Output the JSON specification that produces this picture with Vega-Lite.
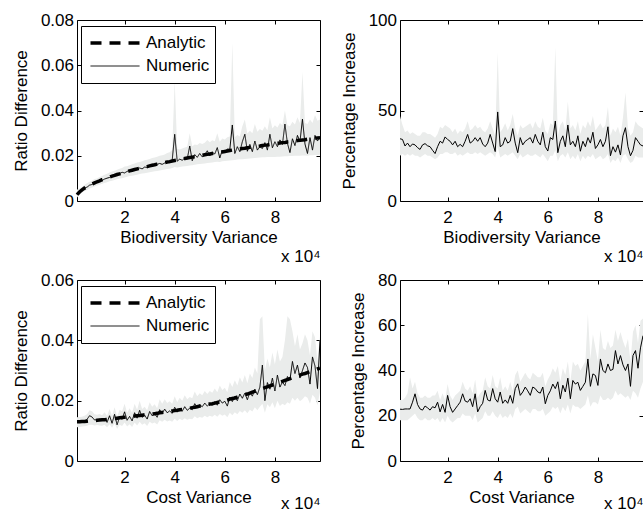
{
"$schema": "https://vega.github.io/schema/vega-lite/v6.json",
"padding": {"left": 11, "top": 10, "right": 0, "bottom": 0},
"background": "white",
"data": {"values": [
{"x":1000,"a1":0.0028,"n1":0.0030,"l1":0.0015,"h1":0.0050,"n2":34.4,"l2":25,"h2":47,"a3":0.0130,"n3":0.0130,"l3":0.0112,"h3":0.0145,"n4":22.9,"l4":18,"h4":27},
{"x":2000,"a1":0.0040,"n1":0.0042,"l1":0.0028,"h1":0.0055,"n2":34.0,"l2":26,"h2":42,"a3":0.0130,"n3":0.0129,"l3":0.0113,"h3":0.0146,"n4":22.8,"l4":18,"h4":27},
{"x":3000,"a1":0.0049,"n1":0.0047,"l1":0.0036,"h1":0.0062,"n2":30.4,"l2":25,"h2":38,"a3":0.0131,"n3":0.0131,"l3":0.0114,"h3":0.0147,"n4":23.0,"l4":18,"h4":28},
{"x":4000,"a1":0.0057,"n1":0.0058,"l1":0.0044,"h1":0.0072,"n2":32.0,"l2":26,"h2":39,"a3":0.0131,"n3":0.0133,"l3":0.0115,"h3":0.0150,"n4":23.0,"l4":18,"h4":30},
{"x":5000,"a1":0.0063,"n1":0.0061,"l1":0.0049,"h1":0.0078,"n2":30.0,"l2":25,"h2":37,"a3":0.0132,"n3":0.0138,"l3":0.0117,"h3":0.0155,"n4":23.0,"l4":19,"h4":37},
{"x":6000,"a1":0.0069,"n1":0.0070,"l1":0.0055,"h1":0.0085,"n2":31.5,"l2":26,"h2":38,"a3":0.0133,"n3":0.0150,"l3":0.0120,"h3":0.0168,"n4":26.0,"l4":20,"h4":32},
{"x":7000,"a1":0.0075,"n1":0.0073,"l1":0.0060,"h1":0.0090,"n2":31.0,"l2":25,"h2":37,"a3":0.0133,"n3":0.0146,"l3":0.0120,"h3":0.0165,"n4":29.7,"l4":21,"h4":35},
{"x":8000,"a1":0.0080,"n1":0.0081,"l1":0.0064,"h1":0.0097,"n2":29.5,"l2":25,"h2":36,"a3":0.0134,"n3":0.0136,"l3":0.0118,"h3":0.0155,"n4":25.0,"l4":19,"h4":30},
{"x":9000,"a1":0.0085,"n1":0.0083,"l1":0.0068,"h1":0.0100,"n2":28.5,"l2":24,"h2":36,"a3":0.0135,"n3":0.0137,"l3":0.0119,"h3":0.0153,"n4":23.0,"l4":18,"h4":28},
{"x":10000,"a1":0.0089,"n1":0.0090,"l1":0.0072,"h1":0.0106,"n2":31.0,"l2":25,"h2":38,"a3":0.0136,"n3":0.0138,"l3":0.0118,"h3":0.0156,"n4":22.5,"l4":18,"h4":28},
{"x":11000,"a1":0.0094,"n1":0.0091,"l1":0.0076,"h1":0.0110,"n2":31.7,"l2":26,"h2":38,"a3":0.0137,"n3":0.0133,"l3":0.0117,"h3":0.0152,"n4":24.3,"l4":19,"h4":29},
{"x":12000,"a1":0.0098,"n1":0.0097,"l1":0.0080,"h1":0.0116,"n2":30.5,"l2":25,"h2":37,"a3":0.0137,"n3":0.0142,"l3":0.0120,"h3":0.0162,"n4":23.5,"l4":18,"h4":28},
{"x":13000,"a1":0.0102,"n1":0.0101,"l1":0.0083,"h1":0.0120,"n2":30.0,"l2":25,"h2":37,"a3":0.0138,"n3":0.0128,"l3":0.0112,"h3":0.0150,"n4":22.5,"l4":18,"h4":28},
{"x":14000,"a1":0.0106,"n1":0.0104,"l1":0.0087,"h1":0.0126,"n2":28.0,"l2":24,"h2":36,"a3":0.0139,"n3":0.0150,"l3":0.0122,"h3":0.0172,"n4":24.0,"l4":19,"h4":29},
{"x":15000,"a1":0.0110,"n1":0.0111,"l1":0.0090,"h1":0.0130,"n2":26.2,"l2":23,"h2":35,"a3":0.0140,"n3":0.0125,"l3":0.0110,"h3":0.0150,"n4":23.5,"l4":18,"h4":29},
{"x":16000,"a1":0.0113,"n1":0.0114,"l1":0.0093,"h1":0.0134,"n2":30.0,"l2":24,"h2":37,"a3":0.0141,"n3":0.0155,"l3":0.0125,"h3":0.0178,"n4":26.0,"l4":19,"h4":31},
{"x":17000,"a1":0.0117,"n1":0.0116,"l1":0.0096,"h1":0.0138,"n2":33.0,"l2":26,"h2":41,"a3":0.0142,"n3":0.0120,"l3":0.0106,"h3":0.0148,"n4":21.7,"l4":17,"h4":27},
{"x":18000,"a1":0.0120,"n1":0.0121,"l1":0.0099,"h1":0.0142,"n2":32.0,"l2":26,"h2":40,"a3":0.0143,"n3":0.0146,"l3":0.0120,"h3":0.0170,"n4":25.0,"l4":19,"h4":30},
{"x":19000,"a1":0.0123,"n1":0.0127,"l1":0.0101,"h1":0.0146,"n2":35.4,"l2":27,"h2":42,"a3":0.0144,"n3":0.0138,"l3":0.0116,"h3":0.0165,"n4":21.5,"l4":17,"h4":27},
{"x":20000,"a1":0.0127,"n1":0.0124,"l1":0.0104,"h1":0.0152,"n2":34.0,"l2":27,"h2":41,"a3":0.0145,"n3":0.0163,"l3":0.0128,"h3":0.0190,"n4":29.0,"l4":20,"h4":34},
{"x":21000,"a1":0.0130,"n1":0.0131,"l1":0.0107,"h1":0.0154,"n2":33.0,"l2":26,"h2":40,"a3":0.0146,"n3":0.0135,"l3":0.0114,"h3":0.0160,"n4":24.0,"l4":18,"h4":29},
{"x":22000,"a1":0.0133,"n1":0.0135,"l1":0.0110,"h1":0.0158,"n2":31.0,"l2":26,"h2":38,"a3":0.0147,"n3":0.0148,"l3":0.0122,"h3":0.0175,"n4":21.5,"l4":17,"h4":27},
{"x":23000,"a1":0.0136,"n1":0.0132,"l1":0.0112,"h1":0.0162,"n2":33.0,"l2":27,"h2":40,"a3":0.0148,"n3":0.0133,"l3":0.0113,"h3":0.0160,"n4":23.0,"l4":18,"h4":29},
{"x":24000,"a1":0.0139,"n1":0.0141,"l1":0.0114,"h1":0.0166,"n2":30.0,"l2":25,"h2":37,"a3":0.0149,"n3":0.0160,"l3":0.0128,"h3":0.0190,"n4":24.5,"l4":19,"h4":30},
{"x":25000,"a1":0.0142,"n1":0.0137,"l1":0.0116,"h1":0.0170,"n2":31.3,"l2":26,"h2":39,"a3":0.0150,"n3":0.0142,"l3":0.0118,"h3":0.0170,"n4":26.0,"l4":19,"h4":31},
{"x":26000,"a1":0.0144,"n1":0.0146,"l1":0.0119,"h1":0.0172,"n2":30.0,"l2":25,"h2":38,"a3":0.0151,"n3":0.0168,"l3":0.0130,"h3":0.0200,"n4":29.7,"l4":21,"h4":35},
{"x":27000,"a1":0.0147,"n1":0.0142,"l1":0.0121,"h1":0.0176,"n2":33.0,"l2":26,"h2":40,"a3":0.0152,"n3":0.0145,"l3":0.0120,"h3":0.0172,"n4":26.5,"l4":20,"h4":32},
{"x":28000,"a1":0.0150,"n1":0.0150,"l1":0.0123,"h1":0.0180,"n2":36.8,"l2":27,"h2":44,"a3":0.0153,"n3":0.0152,"l3":0.0125,"h3":0.0180,"n4":26.0,"l4":20,"h4":31},
{"x":29000,"a1":0.0152,"n1":0.0148,"l1":0.0125,"h1":0.0182,"n2":32.0,"l2":26,"h2":39,"a3":0.0154,"n3":0.0139,"l3":0.0116,"h3":0.0168,"n4":27.5,"l4":20,"h4":33},
{"x":30000,"a1":0.0155,"n1":0.0157,"l1":0.0127,"h1":0.0186,"n2":33.0,"l2":26,"h2":40,"a3":0.0155,"n3":0.0164,"l3":0.0130,"h3":0.0195,"n4":24.0,"l4":18,"h4":30},
{"x":31000,"a1":0.0158,"n1":0.0153,"l1":0.0129,"h1":0.0190,"n2":35.0,"l2":27,"h2":42,"a3":0.0156,"n3":0.0150,"l3":0.0124,"h3":0.0180,"n4":29.7,"l4":21,"h4":36},
{"x":32000,"a1":0.0160,"n1":0.0159,"l1":0.0131,"h1":0.0192,"n2":33.0,"l2":26,"h2":40,"a3":0.0157,"n3":0.0157,"l3":0.0128,"h3":0.0188,"n4":21.7,"l4":17,"h4":28},
{"x":33000,"a1":0.0163,"n1":0.0162,"l1":0.0133,"h1":0.0196,"n2":35.0,"l2":27,"h2":41,"a3":0.0158,"n3":0.0145,"l3":0.0121,"h3":0.0175,"n4":24.0,"l4":18,"h4":30},
{"x":34000,"a1":0.0165,"n1":0.0166,"l1":0.0135,"h1":0.0200,"n2":31.5,"l2":26,"h2":39,"a3":0.0160,"n3":0.0170,"l3":0.0135,"h3":0.0205,"n4":25.5,"l4":19,"h4":31},
{"x":35000,"a1":0.0167,"n1":0.0162,"l1":0.0137,"h1":0.0202,"n2":30.0,"l2":25,"h2":38,"a3":0.0161,"n3":0.0158,"l3":0.0130,"h3":0.0190,"n4":31.2,"l4":22,"h4":37},
{"x":36000,"a1":0.0170,"n1":0.0168,"l1":0.0139,"h1":0.0206,"n2":32.0,"l2":26,"h2":40,"a3":0.0162,"n3":0.0172,"l3":0.0137,"h3":0.0205,"n4":27.0,"l4":20,"h4":33},
{"x":37000,"a1":0.0172,"n1":0.0175,"l1":0.0141,"h1":0.0212,"n2":36.8,"l2":27,"h2":44,"a3":0.0163,"n3":0.0160,"l3":0.0131,"h3":0.0192,"n4":26.5,"l4":20,"h4":32},
{"x":38000,"a1":0.0174,"n1":0.0169,"l1":0.0143,"h1":0.0215,"n2":32.0,"l2":26,"h2":40,"a3":0.0164,"n3":0.0166,"l3":0.0134,"h3":0.0198,"n4":32.0,"l4":22,"h4":38},
{"x":39000,"a1":0.0177,"n1":0.0180,"l1":0.0146,"h1":0.0225,"n2":27.3,"l2":24,"h2":36,"a3":0.0166,"n3":0.0158,"l3":0.0130,"h3":0.0190,"n4":27.5,"l4":20,"h4":33},
{"x":40000,"a1":0.0179,"n1":0.0295,"l1":0.0150,"h1":0.0530,"n2":49.2,"l2":30,"h2":82,"a3":0.0167,"n3":0.0178,"l3":0.0140,"h3":0.0215,"n4":26.0,"l4":19,"h4":32},
{"x":41000,"a1":0.0181,"n1":0.0176,"l1":0.0148,"h1":0.0230,"n2":30.0,"l2":24,"h2":38,"a3":0.0168,"n3":0.0162,"l3":0.0133,"h3":0.0195,"n4":30.5,"l4":21,"h4":37},
{"x":42000,"a1":0.0183,"n1":0.0185,"l1":0.0150,"h1":0.0228,"n2":31.0,"l2":25,"h2":40,"a3":0.0170,"n3":0.0175,"l3":0.0140,"h3":0.0210,"n4":25.5,"l4":19,"h4":31},
{"x":43000,"a1":0.0186,"n1":0.0180,"l1":0.0152,"h1":0.0232,"n2":35.0,"l2":26,"h2":43,"a3":0.0171,"n3":0.0165,"l3":0.0135,"h3":0.0200,"n4":27.0,"l4":20,"h4":33},
{"x":44000,"a1":0.0188,"n1":0.0190,"l1":0.0154,"h1":0.0236,"n2":32.0,"l2":25,"h2":39,"a3":0.0172,"n3":0.0180,"l3":0.0142,"h3":0.0218,"n4":25.5,"l4":19,"h4":31},
{"x":45000,"a1":0.0190,"n1":0.0186,"l1":0.0155,"h1":0.0240,"n2":33.0,"l2":26,"h2":42,"a3":0.0174,"n3":0.0168,"l3":0.0137,"h3":0.0205,"n4":29.0,"l4":21,"h4":35},
{"x":46000,"a1":0.0192,"n1":0.0243,"l1":0.0157,"h1":0.0300,"n2":40.0,"l2":27,"h2":48,"a3":0.0175,"n3":0.0175,"l3":0.0140,"h3":0.0212,"n4":25.5,"l4":19,"h4":31},
{"x":47000,"a1":0.0194,"n1":0.0178,"l1":0.0158,"h1":0.0242,"n2":32.0,"l2":25,"h2":40,"a3":0.0177,"n3":0.0170,"l3":0.0138,"h3":0.0208,"n4":32.0,"l4":23,"h4":38},
{"x":48000,"a1":0.0196,"n1":0.0205,"l1":0.0160,"h1":0.0250,"n2":26.7,"l2":23,"h2":36,"a3":0.0178,"n3":0.0190,"l3":0.0148,"h3":0.0230,"n4":34.1,"l4":24,"h4":40},
{"x":49000,"a1":0.0198,"n1":0.0193,"l1":0.0162,"h1":0.0248,"n2":35.0,"l2":26,"h2":42,"a3":0.0180,"n3":0.0178,"l3":0.0142,"h3":0.0215,"n4":29.0,"l4":21,"h4":35},
{"x":50000,"a1":0.0200,"n1":0.0210,"l1":0.0163,"h1":0.0256,"n2":31.0,"l2":24,"h2":40,"a3":0.0182,"n3":0.0186,"l3":0.0146,"h3":0.0225,"n4":30.5,"l4":22,"h4":37},
{"x":51000,"a1":0.0202,"n1":0.0195,"l1":0.0165,"h1":0.0252,"n2":33.0,"l2":25,"h2":41,"a3":0.0183,"n3":0.0180,"l3":0.0143,"h3":0.0218,"n4":32.7,"l4":23,"h4":39},
{"x":52000,"a1":0.0204,"n1":0.0205,"l1":0.0166,"h1":0.0258,"n2":34.0,"l2":26,"h2":42,"a3":0.0185,"n3":0.0192,"l3":0.0150,"h3":0.0232,"n4":31.0,"l4":22,"h4":37},
{"x":53000,"a1":0.0206,"n1":0.0222,"l1":0.0168,"h1":0.0270,"n2":35.0,"l2":25,"h2":43,"a3":0.0187,"n3":0.0182,"l3":0.0145,"h3":0.0222,"n4":29.0,"l4":21,"h4":36},
{"x":54000,"a1":0.0208,"n1":0.0200,"l1":0.0169,"h1":0.0260,"n2":32.0,"l2":25,"h2":40,"a3":0.0189,"n3":0.0190,"l3":0.0150,"h3":0.0232,"n4":32.7,"l4":23,"h4":39},
{"x":55000,"a1":0.0210,"n1":0.0215,"l1":0.0170,"h1":0.0268,"n2":36.8,"l2":26,"h2":44,"a3":0.0190,"n3":0.0185,"l3":0.0147,"h3":0.0226,"n4":32.0,"l4":23,"h4":38},
{"x":56000,"a1":0.0212,"n1":0.0208,"l1":0.0172,"h1":0.0264,"n2":33.0,"l2":25,"h2":41,"a3":0.0192,"n3":0.0197,"l3":0.0153,"h3":0.0240,"n4":30.5,"l4":22,"h4":37},
{"x":57000,"a1":0.0214,"n1":0.0236,"l1":0.0173,"h1":0.0300,"n2":31.0,"l2":24,"h2":40,"a3":0.0194,"n3":0.0185,"l3":0.0147,"h3":0.0228,"n4":30.0,"l4":22,"h4":37},
{"x":58000,"a1":0.0216,"n1":0.0190,"l1":0.0172,"h1":0.0262,"n2":38.0,"l2":26,"h2":46,"a3":0.0196,"n3":0.0203,"l3":0.0156,"h3":0.0250,"n4":32.7,"l4":23,"h4":39},
{"x":59000,"a1":0.0217,"n1":0.0225,"l1":0.0176,"h1":0.0276,"n2":30.0,"l2":24,"h2":39,"a3":0.0198,"n3":0.0192,"l3":0.0150,"h3":0.0235,"n4":25.3,"l4":20,"h4":33},
{"x":60000,"a1":0.0219,"n1":0.0212,"l1":0.0177,"h1":0.0272,"n2":27.6,"l2":22,"h2":37,"a3":0.0200,"n3":0.0198,"l3":0.0154,"h3":0.0243,"n4":29.0,"l4":21,"h4":36},
{"x":61000,"a1":0.0221,"n1":0.0230,"l1":0.0178,"h1":0.0282,"n2":35.0,"l2":25,"h2":43,"a3":0.0202,"n3":0.0182,"l3":0.0145,"h3":0.0228,"n4":31.0,"l4":22,"h4":38},
{"x":62000,"a1":0.0223,"n1":0.0228,"l1":0.0179,"h1":0.0285,"n2":34.0,"l2":25,"h2":42,"a3":0.0205,"n3":0.0212,"l3":0.0160,"h3":0.0262,"n4":34.0,"l4":24,"h4":41},
{"x":63000,"a1":0.0225,"n1":0.0336,"l1":0.0180,"h1":0.0700,"n2":44.2,"l2":28,"h2":85,"a3":0.0207,"n3":0.0197,"l3":0.0152,"h3":0.0245,"n4":32.0,"l4":23,"h4":39},
{"x":64000,"a1":0.0226,"n1":0.0210,"l1":0.0181,"h1":0.0282,"n2":26.7,"l2":22,"h2":36,"a3":0.0209,"n3":0.0214,"l3":0.0162,"h3":0.0268,"n4":35.0,"l4":24,"h4":42},
{"x":65000,"a1":0.0228,"n1":0.0240,"l1":0.0183,"h1":0.0292,"n2":33.0,"l2":25,"h2":42,"a3":0.0212,"n3":0.0200,"l3":0.0155,"h3":0.0250,"n4":27.5,"l4":21,"h4":35},
{"x":66000,"a1":0.0230,"n1":0.0218,"l1":0.0184,"h1":0.0285,"n2":36.0,"l2":26,"h2":44,"a3":0.0215,"n3":0.0222,"l3":0.0166,"h3":0.0278,"n4":33.5,"l4":24,"h4":41},
{"x":67000,"a1":0.0232,"n1":0.0262,"l1":0.0185,"h1":0.0330,"n2":30.0,"l2":24,"h2":39,"a3":0.0217,"n3":0.0208,"l3":0.0160,"h3":0.0260,"n4":30.5,"l4":22,"h4":38},
{"x":68000,"a1":0.0233,"n1":0.0295,"l1":0.0186,"h1":0.0360,"n2":42.0,"l2":27,"h2":55,"a3":0.0220,"n3":0.0225,"l3":0.0168,"h3":0.0285,"n4":36.6,"l4":25,"h4":44},
{"x":69000,"a1":0.0235,"n1":0.0220,"l1":0.0187,"h1":0.0298,"n2":31.0,"l2":23,"h2":40,"a3":0.0222,"n3":0.0203,"l3":0.0158,"h3":0.0258,"n4":27.5,"l4":21,"h4":35},
{"x":70000,"a1":0.0237,"n1":0.0250,"l1":0.0188,"h1":0.0310,"n2":33.0,"l2":25,"h2":42,"a3":0.0225,"n3":0.0228,"l3":0.0170,"h3":0.0290,"n4":35.6,"l4":25,"h4":44},
{"x":71000,"a1":0.0238,"n1":0.0218,"l1":0.0189,"h1":0.0300,"n2":30.0,"l2":23,"h2":39,"a3":0.0228,"n3":0.0215,"l3":0.0164,"h3":0.0275,"n4":34.0,"l4":24,"h4":42},
{"x":72000,"a1":0.0240,"n1":0.0265,"l1":0.0190,"h1":0.0340,"n2":36.0,"l2":26,"h2":44,"a3":0.0231,"n3":0.0238,"l3":0.0178,"h3":0.0310,"n4":34.8,"l4":24,"h4":43},
{"x":73000,"a1":0.0242,"n1":0.0225,"l1":0.0191,"h1":0.0306,"n2":27.5,"l2":22,"h2":37,"a3":0.0234,"n3":0.0220,"l3":0.0168,"h3":0.0290,"n4":31.2,"l4":23,"h4":40},
{"x":74000,"a1":0.0243,"n1":0.0240,"l1":0.0192,"h1":0.0318,"n2":33.0,"l2":25,"h2":42,"a3":0.0237,"n3":0.0245,"l3":0.0180,"h3":0.0470,"n4":33.0,"l4":24,"h4":42},
{"x":75000,"a1":0.0245,"n1":0.0232,"l1":0.0193,"h1":0.0310,"n2":30.0,"l2":23,"h2":40,"a3":0.0240,"n3":0.0318,"l3":0.0190,"h3":0.0480,"n4":34.8,"l4":25,"h4":44},
{"x":76000,"a1":0.0247,"n1":0.0258,"l1":0.0193,"h1":0.0330,"n2":35.0,"l2":25,"h2":44,"a3":0.0243,"n3":0.0200,"l3":0.0160,"h3":0.0300,"n4":45.1,"l4":29,"h4":65},
{"x":77000,"a1":0.0248,"n1":0.0225,"l1":0.0194,"h1":0.0312,"n2":32.0,"l2":24,"h2":41,"a3":0.0246,"n3":0.0260,"l3":0.0188,"h3":0.0340,"n4":33.0,"l4":24,"h4":45},
{"x":78000,"a1":0.0250,"n1":0.0295,"l1":0.0194,"h1":0.0370,"n2":38.0,"l2":26,"h2":47,"a3":0.0249,"n3":0.0238,"l3":0.0178,"h3":0.0310,"n4":38.5,"l4":26,"h4":56},
{"x":79000,"a1":0.0252,"n1":0.0235,"l1":0.0195,"h1":0.0320,"n2":29.0,"l2":23,"h2":39,"a3":0.0252,"n3":0.0275,"l3":0.0195,"h3":0.0360,"n4":37.8,"l4":26,"h4":50},
{"x":80000,"a1":0.0253,"n1":0.0262,"l1":0.0195,"h1":0.0335,"n2":31.0,"l2":24,"h2":41,"a3":0.0255,"n3":0.0232,"l3":0.0175,"h3":0.0320,"n4":33.4,"l4":25,"h4":44},
{"x":81000,"a1":0.0255,"n1":0.0240,"l1":0.0196,"h1":0.0325,"n2":34.0,"l2":25,"h2":43,"a3":0.0258,"n3":0.0285,"l3":0.0200,"h3":0.0370,"n4":45.1,"l4":29,"h4":58},
{"x":82000,"a1":0.0256,"n1":0.0270,"l1":0.0196,"h1":0.0345,"n2":30.0,"l2":23,"h2":40,"a3":0.0261,"n3":0.0245,"l3":0.0182,"h3":0.0330,"n4":40.0,"l4":27,"h4":50},
{"x":83000,"a1":0.0258,"n1":0.0250,"l1":0.0197,"h1":0.0335,"n2":33.0,"l2":24,"h2":42,"a3":0.0264,"n3":0.0262,"l3":0.0190,"h3":0.0345,"n4":39.0,"l4":27,"h4":49},
{"x":84000,"a1":0.0259,"n1":0.0340,"l1":0.0198,"h1":0.0400,"n2":41.0,"l2":26,"h2":52,"a3":0.0267,"n3":0.0250,"l3":0.0185,"h3":0.0400,"n4":42.9,"l4":28,"h4":53},
{"x":85000,"a1":0.0261,"n1":0.0255,"l1":0.0198,"h1":0.0335,"n2":25.0,"l2":21,"h2":36,"a3":0.0270,"n3":0.0280,"l3":0.0195,"h3":0.0480,"n4":40.0,"l4":27,"h4":50},
{"x":86000,"a1":0.0262,"n1":0.0214,"l1":0.0199,"h1":0.0330,"n2":30.0,"l2":23,"h2":40,"a3":0.0273,"n3":0.0268,"l3":0.0190,"h3":0.0470,"n4":40.5,"l4":28,"h4":51},
{"x":87000,"a1":0.0264,"n1":0.0275,"l1":0.0199,"h1":0.0350,"n2":27.0,"l2":22,"h2":38,"a3":0.0276,"n3":0.0330,"l3":0.0210,"h3":0.0430,"n4":48.8,"l4":31,"h4":58},
{"x":88000,"a1":0.0265,"n1":0.0245,"l1":0.0200,"h1":0.0338,"n2":31.0,"l2":24,"h2":41,"a3":0.0279,"n3":0.0290,"l3":0.0200,"h3":0.0380,"n4":42.9,"l4":29,"h4":53},
{"x":89000,"a1":0.0267,"n1":0.0290,"l1":0.0200,"h1":0.0370,"n2":25.4,"l2":21,"h2":36,"a3":0.0282,"n3":0.0318,"l3":0.0210,"h3":0.0420,"n4":46.6,"l4":30,"h4":57},
{"x":90000,"a1":0.0268,"n1":0.0262,"l1":0.0200,"h1":0.0345,"n2":36.0,"l2":25,"h2":46,"a3":0.0285,"n3":0.0275,"l3":0.0198,"h3":0.0370,"n4":42.5,"l4":29,"h4":53},
{"x":91000,"a1":0.0270,"n1":0.0362,"l1":0.0201,"h1":0.0570,"n2":40.5,"l2":26,"h2":60,"a3":0.0288,"n3":0.0300,"l3":0.0205,"h3":0.0390,"n4":40.0,"l4":28,"h4":50},
{"x":92000,"a1":0.0271,"n1":0.0252,"l1":0.0201,"h1":0.0345,"n2":30.0,"l2":23,"h2":40,"a3":0.0290,"n3":0.0325,"l3":0.0215,"h3":0.0420,"n4":42.9,"l4":29,"h4":54},
{"x":93000,"a1":0.0273,"n1":0.0210,"l1":0.0200,"h1":0.0340,"n2":25.0,"l2":21,"h2":36,"a3":0.0293,"n3":0.0310,"l3":0.0210,"h3":0.0400,"n4":33.0,"l4":27,"h4":44},
{"x":94000,"a1":0.0274,"n1":0.0280,"l1":0.0202,"h1":0.0360,"n2":28.0,"l2":22,"h2":38,"a3":0.0296,"n3":0.0255,"l3":0.0190,"h3":0.0350,"n4":46.6,"l4":31,"h4":57},
{"x":95000,"a1":0.0276,"n1":0.0225,"l1":0.0202,"h1":0.0345,"n2":35.0,"l2":25,"h2":44,"a3":0.0299,"n3":0.0345,"l3":0.0220,"h3":0.0430,"n4":48.8,"l4":30,"h4":60},
{"x":96000,"a1":0.0277,"n1":0.0290,"l1":0.0203,"h1":0.0380,"n2":33.0,"l2":24,"h2":42,"a3":0.0302,"n3":0.0315,"l3":0.0210,"h3":0.0410,"n4":41.0,"l4":28,"h4":52},
{"x":97000,"a1":0.0279,"n1":0.0265,"l1":0.0203,"h1":0.0355,"n2":31.0,"l2":24,"h2":41,"a3":0.0305,"n3":0.0240,"l3":0.0185,"h3":0.0330,"n4":50.0,"l4":32,"h4":62},
{"x":98000,"a1":0.0280,"n1":0.0285,"l1":0.0204,"h1":0.0360,"n2":30.4,"l2":24,"h2":40,"a3":0.0308,"n3":0.0400,"l3":0.0230,"h3":0.0415,"n4":55.4,"l4":35,"h4":63}
]},
"columns": 2,
"spacing": {"row": 79, "column": 80},
"bounds": "flush",
"resolve": {"scale": {"strokeDash": "independent", "strokeWidth": "independent"}},
"concat": [
{
 "width": 243, "height": 181,
 "resolve": {"axis": {"x": "independent", "y": "independent"}},
 "layer": [
  {"mark": {"type": "area", "color": "#eaeceb"},
   "encoding": {
    "x": {"field": "x", "type": "quantitative", "scale": {"domain": [1000, 98000], "nice": false, "zero": false}, "axis": {"orient": "bottom", "title": "Biodiversity Variance", "values": [20000, 40000, 60000, 80000], "labelExpr": "datum.value / 10000"}},
    "y": {"field": "l1", "type": "quantitative", "scale": {"domain": [0, 0.08], "nice": false}, "axis": {"orient": "left", "title": "Ratio Difference", "values": [0, 0.02, 0.04, 0.06, 0.08], "format": "~g"}},
    "y2": {"field": "h1"}}},
  {"mark": {"type": "line", "color": "black"},
   "encoding": {
    "x": {"field": "x", "type": "quantitative", "scale": {"domain": [1000, 98000], "nice": false, "zero": false}, "axis": {"orient": "top", "labels": false, "values": [20000, 40000, 60000, 80000], "title": "x 10⁴", "titleX": 243, "titleY": 241, "titleAlign": "right", "titleBaseline": "alphabetic", "titleAngle": 0}},
    "y": {"field": "n1", "type": "quantitative", "scale": {"domain": [0, 0.08], "nice": false}, "axis": {"orient": "right", "title": null, "labels": false, "values": [0, 0.02, 0.04, 0.06, 0.08]}},
    "strokeDash": {"datum": "Numeric", "type": "ordinal", "scale": {"domain": ["Analytic", "Numeric"], "range": [[11, 8], [1, 0]]}},
    "strokeWidth": {"datum": "Numeric", "type": "ordinal", "scale": {"type": "ordinal", "domain": ["Analytic", "Numeric"], "range": [3.5, 1]}}}},
  {"mark": {"type": "line", "color": "black"},
   "encoding": {
    "x": {"field": "x", "type": "quantitative", "scale": {"domain": [1000, 98000], "nice": false, "zero": false}, "axis": null},
    "y": {"field": "a1", "type": "quantitative", "scale": {"domain": [0, 0.08], "nice": false}, "axis": null},
    "strokeDash": {"datum": "Analytic", "type": "ordinal", "scale": {"domain": ["Analytic", "Numeric"], "range": [[11, 8], [1, 0]]}},
    "strokeWidth": {"datum": "Analytic", "type": "ordinal", "scale": {"type": "ordinal", "domain": ["Analytic", "Numeric"], "range": [3.5, 1]}}}}
 ]
},
{
 "width": 243, "height": 181,
 "resolve": {"axis": {"x": "independent", "y": "independent"}},
 "layer": [
  {"mark": {"type": "area", "color": "#eaeceb"},
   "encoding": {
    "x": {"field": "x", "type": "quantitative", "scale": {"domain": [1000, 98000], "nice": false, "zero": false}, "axis": {"orient": "bottom", "title": "Biodiversity Variance", "values": [20000, 40000, 60000, 80000], "labelExpr": "datum.value / 10000"}},
    "y": {"field": "l2", "type": "quantitative", "scale": {"domain": [0, 100], "nice": false}, "axis": {"orient": "left", "title": "Percentage Increase", "values": [0, 50, 100]}},
    "y2": {"field": "h2"}}},
  {"mark": {"type": "line", "color": "black", "strokeWidth": 1},
   "encoding": {
    "x": {"field": "x", "type": "quantitative", "scale": {"domain": [1000, 98000], "nice": false, "zero": false}, "axis": {"orient": "top", "labels": false, "values": [20000, 40000, 60000, 80000], "title": "x 10⁴", "titleX": 243, "titleY": 241, "titleAlign": "right", "titleBaseline": "alphabetic", "titleAngle": 0}},
    "y": {"field": "n2", "type": "quantitative", "scale": {"domain": [0, 100], "nice": false}, "axis": {"orient": "right", "title": null, "labels": false, "values": [0, 50, 100]}}}}
 ]
},
{
 "width": 243, "height": 181,
 "resolve": {"axis": {"x": "independent", "y": "independent"}},
 "layer": [
  {"mark": {"type": "area", "color": "#eaeceb"},
   "encoding": {
    "x": {"field": "x", "type": "quantitative", "scale": {"domain": [1000, 98000], "nice": false, "zero": false}, "axis": {"orient": "bottom", "title": "Cost Variance", "values": [20000, 40000, 60000, 80000], "labelExpr": "datum.value / 10000"}},
    "y": {"field": "l3", "type": "quantitative", "scale": {"domain": [0, 0.06], "nice": false}, "axis": {"orient": "left", "title": "Ratio Difference", "values": [0, 0.02, 0.04, 0.06], "format": "~g"}},
    "y2": {"field": "h3"}}},
  {"mark": {"type": "line", "color": "black"},
   "encoding": {
    "x": {"field": "x", "type": "quantitative", "scale": {"domain": [1000, 98000], "nice": false, "zero": false}, "axis": {"orient": "top", "labels": false, "values": [20000, 40000, 60000, 80000], "title": "x 10⁴", "titleX": 243, "titleY": 228, "titleAlign": "right", "titleBaseline": "alphabetic", "titleAngle": 0}},
    "y": {"field": "n3", "type": "quantitative", "scale": {"domain": [0, 0.06], "nice": false}, "axis": {"orient": "right", "title": null, "labels": false, "values": [0, 0.02, 0.04, 0.06]}},
    "strokeDash": {"datum": "Numeric", "type": "ordinal", "scale": {"domain": ["Analytic", "Numeric"], "range": [[11, 8], [1, 0]]}},
    "strokeWidth": {"datum": "Numeric", "type": "ordinal", "scale": {"type": "ordinal", "domain": ["Analytic", "Numeric"], "range": [3.5, 1]}}}},
  {"mark": {"type": "line", "color": "black"},
   "encoding": {
    "x": {"field": "x", "type": "quantitative", "scale": {"domain": [1000, 98000], "nice": false, "zero": false}, "axis": null},
    "y": {"field": "a3", "type": "quantitative", "scale": {"domain": [0, 0.06], "nice": false}, "axis": null},
    "strokeDash": {"datum": "Analytic", "type": "ordinal", "scale": {"domain": ["Analytic", "Numeric"], "range": [[11, 8], [1, 0]]}},
    "strokeWidth": {"datum": "Analytic", "type": "ordinal", "scale": {"type": "ordinal", "domain": ["Analytic", "Numeric"], "range": [3.5, 1]}}}}
 ]
},
{
 "width": 243, "height": 181,
 "resolve": {"axis": {"x": "independent", "y": "independent"}},
 "layer": [
  {"mark": {"type": "area", "color": "#eaeceb"},
   "encoding": {
    "x": {"field": "x", "type": "quantitative", "scale": {"domain": [1000, 98000], "nice": false, "zero": false}, "axis": {"orient": "bottom", "title": "Cost Variance", "values": [20000, 40000, 60000, 80000], "labelExpr": "datum.value / 10000"}},
    "y": {"field": "l4", "type": "quantitative", "scale": {"domain": [0, 80], "nice": false}, "axis": {"orient": "left", "title": "Percentage Increase", "values": [0, 20, 40, 60, 80]}},
    "y2": {"field": "h4"}}},
  {"mark": {"type": "line", "color": "black", "strokeWidth": 1},
   "encoding": {
    "x": {"field": "x", "type": "quantitative", "scale": {"domain": [1000, 98000], "nice": false, "zero": false}, "axis": {"orient": "top", "labels": false, "values": [20000, 40000, 60000, 80000], "title": "x 10⁴", "titleX": 243, "titleY": 228, "titleAlign": "right", "titleBaseline": "alphabetic", "titleAngle": 0}},
    "y": {"field": "n4", "type": "quantitative", "scale": {"domain": [0, 80], "nice": false}, "axis": {"orient": "right", "title": null, "labels": false, "values": [0, 20, 40, 60, 80]}}}}
 ]
}
],
"config": {
 "font": "Liberation Sans",
 "view": {"stroke": "black", "strokeWidth": 1},
 "axis": {"domain": false, "grid": false, "tickColor": "black", "tickSize": -4, "tickWidth": 1, "labelFontSize": 17, "titleFontSize": 17, "titleFontWeight": "normal", "labelColor": "black", "titleColor": "black", "labelFont": "Liberation Sans", "titleFont": "Liberation Sans"},
 "axisX": {"labelPadding": 12, "titlePadding": 4},
 "axisY": {"labelPadding": 7.5, "titlePadding": 10},
 "legend": {"title": null, "orient": "none", "legendX": 4, "legendY": 6, "symbolType": "stroke", "symbolSize": 2401, "symbolStrokeColor": "black", "clipHeight": 23, "rowPadding": 0, "padding": 5.5, "symbolOffset": 2, "labelOffset": 4.5, "labelFontSize": 17, "labelColor": "black", "labelFont": "Liberation Sans", "strokeColor": "black", "fillColor": "white"}
}
}
